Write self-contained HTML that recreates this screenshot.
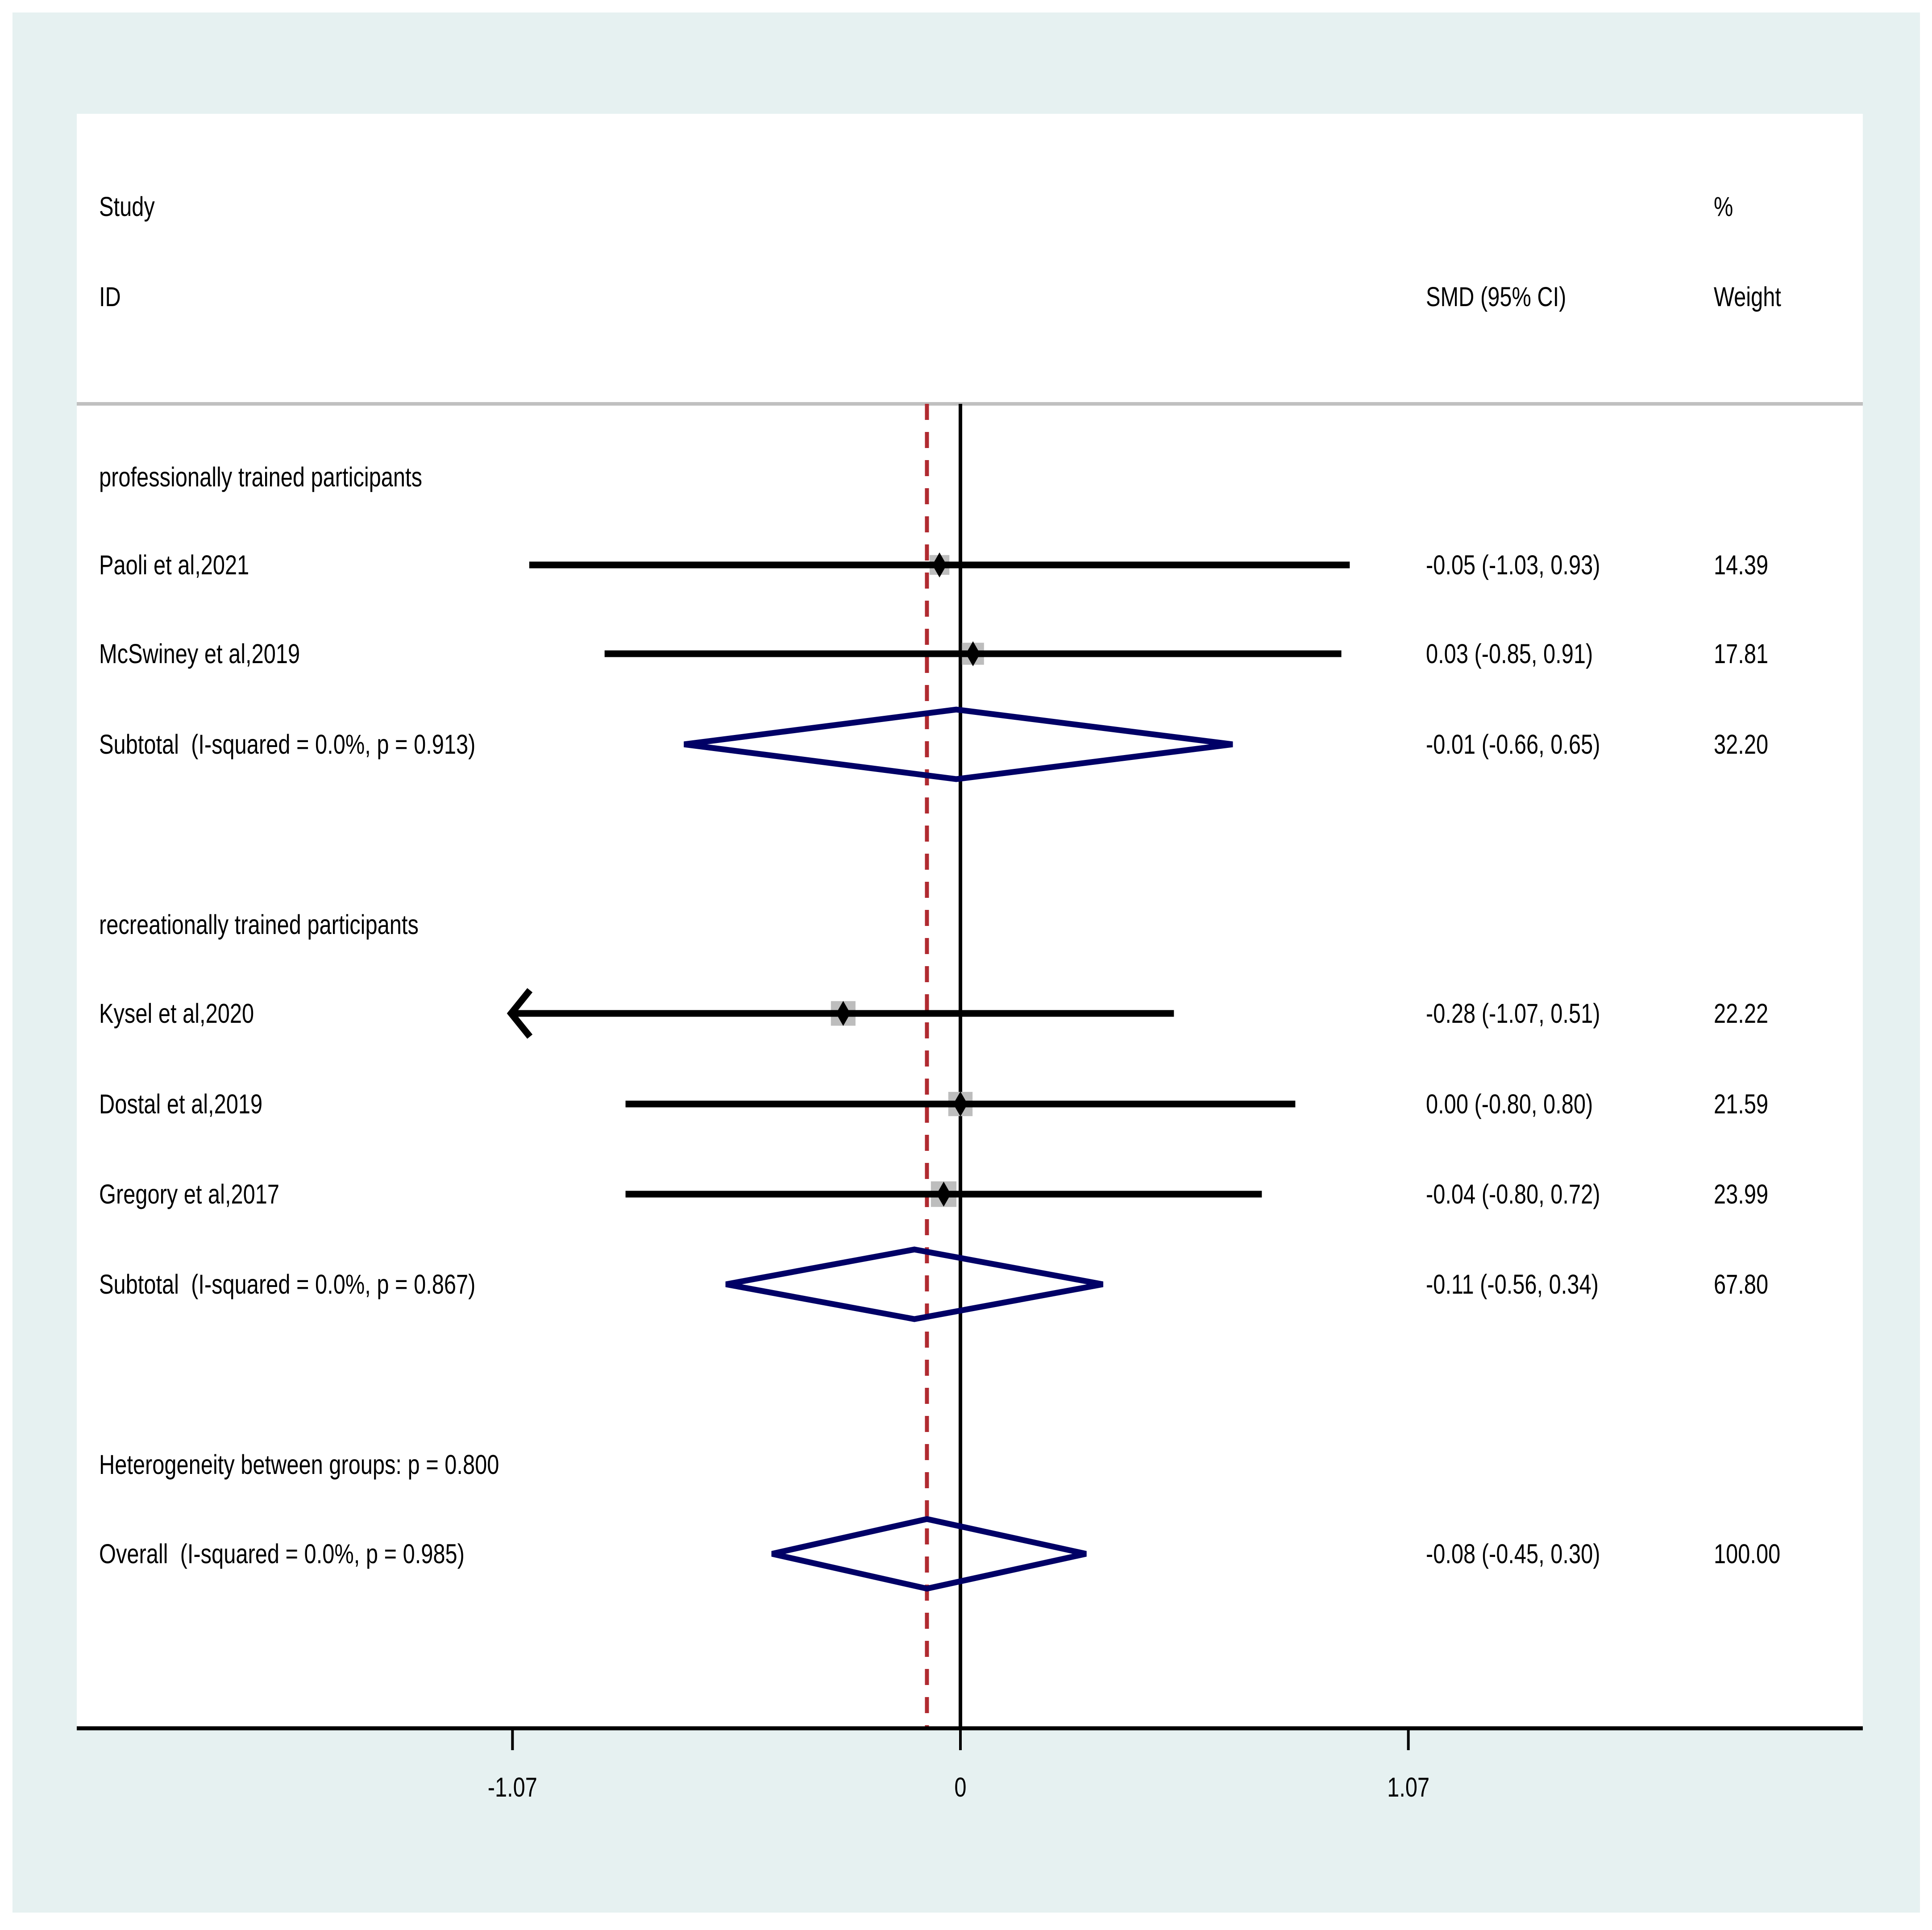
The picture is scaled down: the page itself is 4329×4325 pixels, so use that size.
<!DOCTYPE html>
<html><head><meta charset="utf-8"><style>
html,body{margin:0;padding:0;background:#fff;}
svg{display:block;}
text{font-family:"Liberation Sans",sans-serif;font-size:61px;fill:#000;white-space:pre;}
</style></head><body>
<svg id="chart" width="4329" height="4325" viewBox="0 0 4329 4325" xmlns="http://www.w3.org/2000/svg">
<rect x="28" y="28" width="4274" height="4258" fill="#e6f1f1"/>
<rect x="172" y="255" width="4002" height="3620" fill="#ffffff"/>
<line x1="172" y1="905" x2="4174" y2="905" stroke="#c0c0c0" stroke-width="8"/>
<g id="texts"></g>
<g id="marks"></g>
</svg>
<script>
// ---- data ----
const studyLabels = ["Paoli et al,2021","McSwiney et al,2019","Kysel et al,2020","Dostal et al,2019","Gregory et al,2017"];
const studyEst = [-0.05, 0.03, -0.28, 0.00, -0.04];
const studyLo = [-1.03, -0.85, -1.07, -0.80, -0.80];
const studyHi = [0.93, 0.91, 0.51, 0.80, 0.72];
const studyWeight = [14.39, 17.81, 22.22, 21.59, 23.99];
const studyRow = [1266, 1465, 2271, 2474, 2676];
const pooledLabels = ["Subtotal  (I-squared = 0.0%, p = 0.913)","Subtotal  (I-squared = 0.0%, p = 0.867)","Overall  (I-squared = 0.0%, p = 0.985)"];
const pooledEst = [-0.01, -0.11, -0.08];
const pooledLo = [-0.66, -0.56, -0.45];
const pooledHi = [0.65, 0.34, 0.30];
const pooledWeight = ["32.20","67.80","100.00"];
const pooledRow = [1668, 2878, 3482];
const overallEst = -0.08;
const tickValues = [-1.07, 0, 1.07];
const tickLabels = ["-1.07","0","1.07"];
const axisMin = -1.07;

// ---- scales ----
const X0 = 2152, UNIT = 938;
function xs(v){ return X0 + v*UNIT; }
const NS = "http://www.w3.org/2000/svg";
const texts = document.getElementById('texts');
const marks = document.getElementById('marks');
function mk(tag, attrs, parent){ const e=document.createElementNS(NS,tag); for(const k in attrs) e.setAttribute(k,attrs[k]); parent.appendChild(e); return e; }
function txt(str, x, y, name, anchor){
  const t = mk('text', {transform:`translate(${x},${y+21}) scale(0.80,1)`, 'text-anchor':anchor||'start'}, texts);
  
  
  t.textContent = str; return t;
}
function fmt(v){ return v.toFixed(2); }

const LX = 222, SX = 3195, WX = 3840;
txt("Study", LX, 463, "study-header");
txt("ID", LX, 665, "id-header");
txt("SMD (95% CI)", SX, 665, "smd-header");
txt("%", WX, 463, "percent-header");
txt("Weight", WX, 665, "weight-header");
txt("professionally trained participants", LX, 1069, "group-label-professional");
txt("recreationally trained participants", LX, 2072, "group-label-recreational");
txt("Heterogeneity between groups: p = 0.800", LX, 3282, "heterogeneity-label");

// reference lines
const zl = mk('line', {x1:xs(0), y1:905, x2:xs(0), y2:3875, stroke:'#000', 'stroke-width':8}, marks);


const ol = mk('line', {x1:xs(overallEst), y1:905, x2:xs(overallEst), y2:3875, stroke:'#b02a30', 'stroke-width':9, 'stroke-dasharray':'36 27'}, marks);



// studies
studyLabels.forEach((lab, i) => {
  const y = studyRow[i];
  txt(lab, LX, y, 'study-label');
  txt(`${fmt(studyEst[i])} (${fmt(studyLo[i])}, ${fmt(studyHi[i])})`, SX, y, 'study-ci-text');
  txt(fmt(studyWeight[i]), WX, y, 'study-weight-text');
  const s = 11.7*Math.sqrt(studyWeight[i]);
  const sq = mk('rect', {x:xs(studyEst[i])-s/2, y:y-s/2, width:s, height:s, fill:'#bdbdbd'}, marks);
  
  
  const truncated = studyLo[i] <= axisMin;
  const ci = mk('line', {x1:xs(Math.max(studyLo[i],axisMin)), y1:y, x2:xs(studyHi[i]), y2:y, stroke:'#000', 'stroke-width':15}, marks);
  
  
  if (truncated){
    const ax = xs(axisMin)-3;
    const ar = mk('polyline', {points:`${ax+42},${y-52} ${ax},${y} ${ax+42},${y+52}`, fill:'none', stroke:'#000', 'stroke-width':15}, marks);
    
    
  }
  const cx = xs(studyEst[i]);
  const dm = mk('polygon', {points:`${cx},${y-28} ${cx+16},${y} ${cx},${y+28} ${cx-16},${y}`, fill:'#000'}, marks);
  
  
});

// pooled diamonds
pooledLabels.forEach((lab, i) => {
  const y = pooledRow[i];
  txt(lab, LX, y, 'pooled-label');
  txt(`${fmt(pooledEst[i])} (${fmt(pooledLo[i])}, ${fmt(pooledHi[i])})`, SX, y, 'pooled-ci-text');
  txt(pooledWeight[i], WX, y, 'pooled-weight-text');
  const h = 78;
  const d = mk('polygon', {points:`${xs(pooledLo[i])},${y} ${xs(pooledEst[i])},${y-h} ${xs(pooledHi[i])},${y} ${xs(pooledEst[i])},${y+h}`, fill:'none', stroke:'#000066', 'stroke-width':13}, marks);
  
  
});

// x axis
const ax = mk('line', {x1:172, y1:3873, x2:4174, y2:3873, stroke:'#000', 'stroke-width':9}, marks);


tickValues.forEach((v, i) => {
  const tk = mk('line', {x1:xs(v), y1:3873, x2:xs(v), y2:3922, stroke:'#000', 'stroke-width':6}, marks);
  
  
  txt(tickLabels[i], xs(v), 4005, 'x-tick-label', 'middle');
});
</script>
</body></html>
